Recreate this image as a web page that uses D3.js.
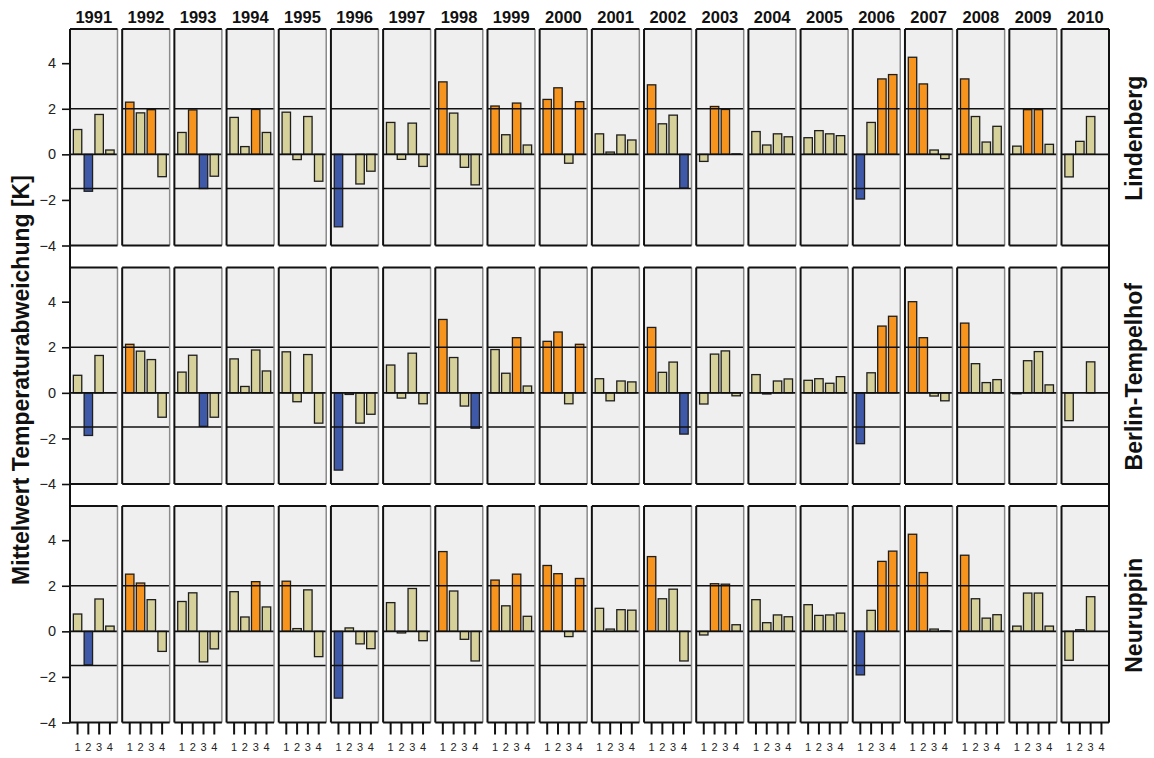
<!DOCTYPE html>
<html>
<head>
<meta charset="utf-8">
<script src="https://cdn.jsdelivr.net/npm/d3@7"></script>
<style>
  body { margin: 0; background: #fff; }
  text { font-family: "Liberation Sans", Arial, sans-serif; }
</style>
</head>
<body>
<svg id="chart" width="1154" height="758"></svg>
<script>
const years = ["1991","1992","1993","1994","1995","1996","1997","1998","1999","2000",
               "2001","2002","2003","2004","2005","2006","2007","2008","2009","2010"];
const quarters = ["1","2","3","4"];
const stations = ["Lindenberg","Berlin-Tempelhof","Neuruppin"];
const yTicks = [4, 2, 0, -2, -4];
const refLines = [2, 0, -1.5];
const yTitle = "Mittelwert Temperaturabweichung [K]";

const lindenberg = [
  [1.09,-1.62,1.75,0.19],[2.29,1.82,1.96,-0.98],[0.96,1.95,-1.5,-0.96],[1.62,0.34,1.97,0.96],
  [1.85,-0.23,1.66,-1.18],[-3.18,0.0,-1.3,-0.74],[1.4,-0.22,1.37,-0.53],[3.18,1.81,-0.57,-1.34],
  [2.12,0.86,2.25,0.41],[2.41,2.92,-0.39,2.31],[0.9,0.1,0.85,0.63],[3.05,1.34,1.72,-1.48],
  [-0.31,2.1,1.97,0.02],[1.0,0.41,0.9,0.77],[0.73,1.04,0.9,0.82],[-1.96,1.4,3.31,3.5],
  [4.26,3.09,0.19,-0.19],[3.31,1.66,0.54,1.23],[0.36,1.96,1.96,0.44],[-0.99,0.57,1.66,null]
];
const tempelhof = [
  [0.77,-1.87,1.64,null],[2.13,1.83,1.46,-1.07],[0.91,1.65,-1.47,-1.07],[1.49,0.28,1.88,0.96],
  [1.8,-0.39,1.68,-1.33],[-3.39,-0.07,-1.33,-0.94],[1.22,-0.23,1.74,-0.48],[3.22,1.55,-0.58,-1.55],
  [1.9,0.86,2.42,0.3],[2.26,2.67,-0.48,2.13],[0.62,-0.35,0.52,0.48],[2.87,0.9,1.35,-1.81],
  [-0.49,1.7,1.84,-0.13],[0.8,-0.05,0.52,0.61],[0.55,0.62,0.42,0.71],[-2.23,0.88,2.93,3.36],
  [4.0,2.42,-0.14,-0.35],[3.06,1.28,0.45,0.58],[-0.04,1.41,1.81,0.35],[-1.22,0,1.36,null]
];
const neuruppin = [
  [0.76,-1.47,1.42,0.23],[2.51,2.12,1.39,-0.88],[1.31,1.69,-1.34,-0.77],[1.74,0.63,2.18,1.07],
  [2.2,0.12,1.82,-1.11],[-2.93,0.15,-0.55,-0.76],[1.26,-0.07,1.88,-0.41],[3.5,1.77,-0.35,-1.3],
  [2.25,1.12,2.51,0.66],[2.89,2.53,-0.23,2.32],[1.01,0.1,0.95,0.93],[3.28,1.43,1.85,-1.3],
  [-0.16,2.09,2.07,0.29],[1.39,0.38,0.72,0.64],[1.17,0.7,0.72,0.8],[-1.91,0.92,3.07,3.52],
  [4.26,2.58,0.1,0.02],[3.34,1.43,0.58,0.73],[0.23,1.68,1.68,0.23],[-1.27,0.07,1.52,null]
];
const stationData = [lindenberg, tempelhof, neuruppin];

const colHigh = "#f7941e", colLow = "#3f59a9", colMid = "#d6d09a";
const highThreshold = 1.95, lowThreshold = -1.45;

const svg = d3.select("#chart");
const left = 70, right = 1109;
const rowTops = [29, 267.5, 506];
const rowH = 216.5;

const xYear = d3.scaleBand().domain(years).range([left, right]).paddingInner(0.09).paddingOuter(0);
const xQ = d3.scaleBand().domain(quarters).range([0, xYear.bandwidth()]).paddingInner(0.22).paddingOuter(0.31);

function colorOf(v) {
  if (v >= highThreshold) return colHigh;
  if (v <= lowThreshold) return colLow;
  return colMid;
}

stations.forEach((st, r) => {
  const top = rowTops[r], bottom = top + rowH;
  const y = d3.scaleLinear().domain([-4, 5.5]).range([bottom, top]);
  const data = stationData[r];
  const g = svg.append("g");

  years.forEach((yr, i) => {
    const x0 = xYear(yr), w = xYear.bandwidth();
    const pg = g.append("g").attr("transform", `translate(${x0},0)`);
    pg.append("rect").attr("x", 0).attr("y", top).attr("width", w).attr("height", rowH)
      .attr("fill", "#efefef");
    const vals = data[i].map((v, k) => ({q: quarters[k], v}));
    pg.selectAll("rect.bar").data(vals.filter(d => d.v !== null)).join("rect")
      .attr("class", "bar")
      .attr("x", d => xQ(d.q))
      .attr("width", xQ.bandwidth())
      .attr("y", d => Math.min(y(d.v), y(0)))
      .attr("height", d => Math.abs(y(d.v) - y(0)))
      .attr("fill", d => colorOf(d.v))
      .attr("stroke", "#1e1e1e").attr("stroke-width", 1.3);
    pg.selectAll("line.ref").data(refLines).join("line")
      .attr("class", "ref")
      .attr("x1", 0).attr("x2", w)
      .attr("y1", d => y(d)).attr("y2", d => y(d))
      .attr("stroke", "#111").attr("stroke-width", 1.6);
    // borders
    pg.append("line").attr("x1", w).attr("x2", w).attr("y1", top).attr("y2", bottom)
      .attr("stroke", "#8a8a8a").attr("stroke-width", 1.5);
    pg.append("line").attr("x1", 0).attr("x2", w).attr("y1", top).attr("y2", top)
      .attr("stroke", "#111").attr("stroke-width", 1.8);
    pg.append("line").attr("x1", 0).attr("x2", w).attr("y1", bottom).attr("y2", bottom)
      .attr("stroke", "#111").attr("stroke-width", 1.8);
    pg.append("line").attr("x1", 0).attr("x2", 0).attr("y1", top).attr("y2", bottom)
      .attr("stroke", "#111").attr("stroke-width", 2);
  });

  // y axis
  const axis = d3.axisLeft(y).tickValues(yTicks).tickSize(8).tickPadding(6)
    .tickFormat(d3.format("d"));
  const ag = svg.append("g").attr("transform", `translate(${left},0)`).call(axis);
  ag.select(".domain").remove();
  ag.selectAll(".tick line").attr("stroke", "#111").attr("stroke-width", 1.6);
  ag.selectAll(".tick text").attr("font-size", 14.5).attr("fill", "#222")
    .style("font-family", "'Liberation Sans', Arial, sans-serif");

  // station label
  svg.append("text")
    .attr("transform", `translate(1142,${(top + bottom) / 2 + 1}) rotate(-90)`)
    .attr("text-anchor", "middle")
    .attr("font-weight", "bold").attr("font-size", 23).attr("fill", "#111")
    .text(st);
});

// frame lines
svg.append("line").attr("x1", left).attr("x2", left).attr("y1", rowTops[0]).attr("y2", rowTops[2] + rowH)
  .attr("stroke", "#111").attr("stroke-width", 2);
svg.append("line").attr("x1", right).attr("x2", right).attr("y1", rowTops[0]).attr("y2", rowTops[2] + rowH)
  .attr("stroke", "#111").attr("stroke-width", 2);

// year labels
svg.selectAll("text.year").data(years).join("text")
  .attr("class", "year")
  .attr("x", d => xYear(d) + xYear.bandwidth() / 2)
  .attr("y", 22.5)
  .attr("text-anchor", "middle")
  .attr("font-weight", "bold").attr("font-size", 16.5).attr("fill", "#111")
  .text(d => d);

// bottom x ticks
const bottomY = rowTops[2] + rowH;
years.forEach(yr => {
  const gx = svg.append("g").attr("transform", `translate(${xYear(yr)},${bottomY})`);
  const ax = d3.axisBottom(xQ).tickSize(12).tickPadding(9);
  gx.call(ax);
  gx.select(".domain").remove();
  gx.selectAll(".tick line").attr("stroke", "#111").attr("stroke-width", 2);
  gx.selectAll(".tick text").attr("font-size", 11).attr("fill", "#222")
    .style("font-family", "'Liberation Sans', Arial, sans-serif");
});

// y title
svg.append("text")
  .attr("transform", `translate(29,${380}) rotate(-90)`)
  .attr("text-anchor", "middle")
  .attr("font-weight", "bold").attr("font-size", 23).attr("fill", "#111")
  .text(yTitle);
</script>
</body>
</html>
